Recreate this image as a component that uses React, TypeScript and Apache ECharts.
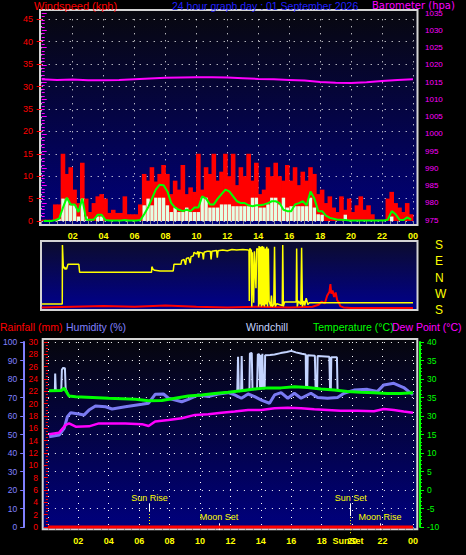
import React, { useEffect, useRef } from "react";
import * as echarts from "echarts";

const FONT = "Liberation Sans";

// ---------- Top panel: wind (15-minute bins) ----------
const gustKph = [
  0.3, 0.3, 0.3, 3.7,
  3.7, 15, 10.5, 12,
  7, 4, 13, 5,
  2, 4, 5.5, 6,
  5, 1.8, 2.5, 1.8,
  1.8, 5.5, 1.5, 1.5,
  1.5, 3.7, 10.5, 9,
  12, 8.8, 10.5, 12.5,
  10.5, 6, 9, 7,
  12.5, 6, 7.5, 6.5,
  15, 7, 12, 10.5,
  15, 9, 11, 15,
  10, 15, 8, 12,
  10, 15, 9, 13,
  6, 7, 12, 10,
  13, 10, 9, 12.5,
  9, 12, 8, 11,
  9, 12, 10.5, 6,
  7, 4, 5.5, 3,
  2, 5.5, 2.5, 5,
  2, 3.5, 5.5, 2.5,
  3.5, 1.5, 0.3, 0.3,
  0.3, 5, 6.5, 4,
  3, 2, 4, 1.5,
];
const speedKph = [
  0, 0, 0, 0,
  0.5, 5, 5, 3.5,
  3.5, 1, 5, 1,
  0, 0, 1, 1,
  0, 0, 0, 0,
  0, 0, 0, 0,
  0, 0, 3.5, 5,
  3.5, 5.2, 5.2, 5.2,
  3.5, 2, 3, 2,
  2, 3, 2, 2,
  2, 5.2, 5.2, 3,
  3, 3, 3.7, 3.7,
  3.7, 3.3, 3.3, 3.3,
  3.3, 3.3, 5.2, 5.2,
  3, 3, 3.7, 5.2,
  5.2, 3.7, 5.2, 3,
  3.3, 3.3, 3.3, 3.3,
  3.3, 5.2, 3, 1.5,
  1.4, 0, 0, 0,
  0, 0, 1.4, 0,
  0, 0, 0, 0,
  0, 0, 0, 0,
  0, 0, 1, 0,
  0, 0, 0, 0,
];
const avgKph = [
  0, 0, 0, 0.2,
  0.5, 3, 5.2, 3.7,
  3.7, 2, 5, 0.3,
  0.3, 0.3, 1.4, 1.4,
  0.2, 0.1, 0.1, 0.1,
  0.1, 0.2, 0.1, 0.1,
  0.1, 0.2, 1.5, 3,
  5, 7, 8.1, 8,
  6.6, 4, 3, 2.5,
  2.2, 2.5, 2.2, 3,
  3, 5.5, 5, 3.7,
  3.7, 5, 6, 7,
  6.6, 5.5, 4.4, 4,
  4, 3.5, 3.3, 3.5,
  3.5, 3.7, 4, 4.4,
  4.4, 4, 2.5, 2.2,
  2.2, 3.7, 4, 4.4,
  3.5, 6.6, 5, 2.2,
  2.2, 1.2, 0.7, 0.5,
  0.3, 0.3, 0.2, 0.1,
  0.1, 0.1, 0.1, 0.1,
  0.1, 0.1, 0.1, 0.1,
  0.1, 0.3, 2.2, 1.5,
  0.3, 0.2, 0.8, 0.3,
];
const baroHours = [0, 1, 2, 3, 4, 5, 6, 7, 8, 9, 10, 11, 12, 13, 14, 15, 16, 17, 18, 19, 20, 21, 22, 23, 24];
const baroHpa = [1015.8, 1015.6, 1015.7, 1015.5, 1015.5, 1015.6, 1015.8, 1016.0, 1016.2, 1016.3, 1016.4, 1016.4, 1016.3, 1016.1, 1015.9, 1015.8, 1015.6, 1015.4, 1015.0, 1014.8, 1014.7, 1014.9, 1015.3, 1015.6, 1015.8];

// ---------- Middle panel: wind direction ----------
const dirPoints: [number, number][] = [
  [0, 213], [1.33, 213], [1.34, 540], [1.4, 411], [1.45, 420], [1.5, 405], [1.55, 415], [1.6, 405], [1.7, 433],
  [2.4, 433], [2.45, 389], [7.1, 389], [7.12, 420], [7.2, 405], [7.3, 400], [7.65, 396], [8.5, 396], [8.55, 433],
  [9.0, 433], [9.05, 455], [9.2, 460], [9.3, 430], [9.35, 465], [9.5, 470], [9.6, 440], [9.65, 475], [9.8, 480],
  [9.85, 500], [10.0, 490], [10.1, 505], [10.15, 470], [10.2, 500], [10.4, 495], [10.45, 460], [10.5, 500],
  [10.7, 505], [10.9, 505], [10.95, 460], [11.0, 505], [11.3, 510], [11.35, 470], [11.4, 508], [11.7, 512],
  [12.0, 508], [12.3, 515], [12.6, 512], [13.0, 515], [13.35, 512], [13.4, 510], [13.42, 230], [13.45, 520],
  [13.55, 510], [13.58, 200], [13.62, 500], [13.7, 220], [13.75, 505], [13.85, 300], [13.9, 520], [14.0, 515],
  [14.02, 200], [14.05, 535], [14.1, 210], [14.15, 530], [14.2, 200], [14.25, 535], [14.3, 205], [14.35, 530],
  [14.4, 200], [14.45, 520], [14.5, 210], [14.55, 530], [14.6, 200], [14.65, 520], [14.7, 230], [14.8, 200],
  [14.85, 260], [14.9, 200], [15.0, 210], [15.05, 530], [15.1, 200], [15.2, 215], [15.55, 205], [15.58, 540],
  [15.62, 200], [15.7, 225], [16.45, 225], [16.48, 520], [16.52, 200], [16.6, 230], [16.75, 210], [16.8, 525],
  [16.85, 200], [16.95, 230], [17.0, 205], [17.1, 245], [17.2, 210], [17.3, 220], [24, 220],
];
const dirLabels = ["S", "W", "N", "E", "S"];
const midRedPoints: [number, number][] = [
  [0, 0.4], [2, 0.5], [4, 0.6], [6, 0.5], [8, 0.7], [10, 0.5], [12, 0.4], [14, 0.5], [16, 0.4], [17.5, 0.5],
  [17.9, 0.8], [18.1, 1.3], [18.3, 1.0], [18.45, 2.2], [18.6, 2.8], [18.66, 4.0], [18.72, 2.5], [18.8, 3.0],
  [18.9, 2.0], [19.0, 2.7], [19.1, 1.5], [19.2, 1.2], [19.3, 0.6], [19.5, 0.4], [20, 0.3], [22, 0.3], [24, 0.3],
];

// ---------- Bottom panel ----------
const tempPoints: [number, number][] = [
  [0.08, 26.8], [0.9, 26.9], [1.07, 27.5], [1.39, 25.4], [1.83, 25.2], [4.0, 24.8], [5.75, 24.5], [6.62, 24.1],
  [7.49, 24.2], [8.36, 24.8], [9.23, 25.4], [10.1, 25.7], [10.97, 26.1], [11.85, 26.4], [12.72, 26.8], [13.59, 27.3],
  [14.46, 27.6], [15.33, 27.6], [16.2, 27.9], [17.08, 27.7], [17.95, 27.3], [18.82, 27.0], [19.69, 26.6],
  [20.56, 26.4], [21.43, 26.3], [22.31, 26.1], [23.18, 26.1], [24, 26.3],
];
const humidityPoints: [number, number][] = [
  [0.08, 48.8], [0.74, 49.7], [1.07, 53.3], [1.28, 59.6], [1.5, 61.8], [2.04, 61.1], [2.37, 60.5], [2.7, 63.2],
  [3.13, 65.4], [3.79, 65], [4.22, 63.8], [5.09, 65], [6.18, 66.3], [6.62, 66.9], [7.05, 71.7], [7.6, 71.9],
  [7.93, 69.6], [8.8, 67.7], [9.23, 69], [9.89, 71.4], [10.54, 70.5], [11.2, 71.9], [11.85, 72.6], [12.28, 71.4],
  [12.72, 69.6], [13.16, 71.9], [13.59, 70.5], [14.03, 68.6], [14.57, 66.9], [14.9, 71.4], [15.33, 72.6],
  [15.77, 69.6], [16.2, 72.3], [16.64, 69.6], [17.29, 72.3], [17.73, 70], [18.38, 69.6], [19.04, 70], [19.47, 72.3],
  [20.12, 74], [21.0, 74.4], [21.65, 73.2], [22.08, 76.8], [22.74, 77.7], [23.39, 75.4], [24, 71.4],
];
const dewPoints: [number, number][] = [
  [0.08, 15.05], [0.74, 15.5], [1.17, 17.6], [1.39, 18.0], [1.83, 17.1], [2.7, 17.2], [3.35, 18.0], [5.09, 18.0],
  [6.18, 17.8], [6.62, 17.3], [7.05, 18.5], [7.93, 18.9], [8.8, 19.4], [9.67, 20.3], [10.54, 20.5], [11.41, 20.9],
  [12.28, 21.2], [13.16, 21.6], [14.03, 21.6], [14.9, 22.1], [15.77, 22.2], [16.64, 22.1], [17.51, 21.8],
  [18.38, 21.6], [19.25, 21.4], [20.35, 21.4], [21.43, 21.3], [22.08, 21.9], [22.74, 21.6], [23.39, 21.2], [24, 20.9],
];
const windchillPoints: [number, number | string][] = [
  [0.08, 26.8], [0.46, 26.8], [0.48, 31.5], [0.52, 26.8], [0.88, 26.9], [0.92, 32.5], [1.0, 33.0], [1.12, 32.9],
  [1.17, 27.3], [1.3, 26.0], [1.31, "-"],
  [12.45, 26.7], [12.5, 36.0], [12.55, 26.7], [12.7, 26.8], [12.74, 36.2], [12.78, 26.8], [13.25, 27.1],
  [13.28, 36.9], [13.4, 37.0], [13.45, 27.2], [13.75, 27.3], [13.8, 36.7], [13.9, 36.6], [13.95, 27.4],
  [14.0, 36.5], [14.05, 27.4], [14.1, 36.8], [14.15, 27.5], [14.25, 27.5], [14.28, 36.4], [14.6, 36.5],
  [14.9, 36.6], [15.3, 37.0], [15.7, 37.3], [16.0, 37.6], [16.3, 37.2], [16.7, 36.8], [16.95, 36.6],
  [16.97, 27.7], [17.05, 27.7], [17.08, 36.4], [17.55, 36.3], [17.6, 27.4], [17.7, 27.4], [17.73, 36.2],
  [18.5, 36.0], [18.55, 27.1], [18.6, 27.1], [18.63, 35.9], [19.0, 35.9], [19.04, 26.9],
];
const rainHours = [0, 6, 12, 18, 24];
const rainMm = [0, 0, 0, 0, 0];
const eventNames = ["Sun Rise", "Moon Set", "Sun Set", "Moon Rise"];
const eventHours = [6.79, 11.33, 19.93, 21.85];

const hourLabel = (v: number) => (v === 0 ? "" : String(v % 24).padStart(2, "0"));
const tempLabel = (v: number) => (v === 25 ? "35" : v === 20 ? "30" : String(v));
const windLabel = (v: number) => (v === 25 ? "35" : String(v));

const dots = { type: [1, 6] as any, color: "#ffffff", width: 1 };
const grad = (a: string, b: string) =>
  new echarts.graphic.LinearGradient(0, 0, 0, 1, [
    { offset: 0, color: a },
    { offset: 1, color: b },
  ]);

function buildOption(): any {
  const binX = gustKph.map((_, i) => i / 4 + 0.125);
  const hidden = (gridIndex: number, extra: any = {}) => ({ gridIndex, show: false, type: "value", ...extra });
  const lbl = (color: string, extra: any = {}) => ({ color, fontSize: 8.5, fontFamily: FONT, ...extra });

  const eventLines: any[] = [];
  const whiteSeg: Record<string, [number, number]> = {
    "Sun Rise": [2.48, 3.84],
    "Sun Set": [1.78, 3.84],
    "Moon Set": [-0.5, 0.6],
    "Moon Rise": [-0.5, 0.6],
  };
  const dottedSeg: Record<string, [number, number] | null> = {
    "Sun Rise": [0, 2.48],
    "Sun Set": [-1.0, 1.78],
    "Moon Set": null,
    "Moon Rise": null,
  };
  eventNames.forEach((name, i) => {
    const h = eventHours[i];
    const w = whiteSeg[name];
    eventLines.push([
      { coord: [h, w[0]] },
      {
        coord: [h, w[1]],
        lineStyle: { color: "#ffffff", type: "solid", width: 1 },
        label: { show: true, formatter: name, distance: name.startsWith("Sun") ? 1 : 2 },
      },
    ]);
    const d = dottedSeg[name];
    if (d) {
      eventLines.push([
        { coord: [h, d[0]] },
        { coord: [h, d[1]], lineStyle: { color: "#ffff00", type: [1, 2], width: 1 }, label: { show: false } },
      ]);
    }
  });

  const xLabelStyle = { color: "#ffff00", fontSize: 9, fontWeight: "bold", fontFamily: FONT, formatter: hourLabel };
  const tickGray = { lineStyle: { color: "#8a8a8a", width: 1 } };

  return {
    animation: false,
    backgroundColor: "#000000",
    textStyle: { fontFamily: FONT },
    grid: [
      { left: 40, top: 10, width: 377.5, height: 215, show: true, backgroundColor: grad("#08080e", "#00007c"), borderColor: "#d4d4d4", borderWidth: 2, z: 0 },
      { left: 41.7, top: 19.3, width: 371.3, height: 201.7 },
      { left: 41.7, top: 13, width: 371.3, height: 207 },
      { left: 41, top: 241, width: 376.5, height: 69, show: true, backgroundColor: grad("#0c0c2c", "#00008e"), borderColor: "#d4d4d4", borderWidth: 2, z: 0 },
      { left: 41.7, top: 245, width: 371.3, height: 65 },
      { left: 42.7, top: 339, width: 374.6, height: 190.3, show: true, backgroundColor: grad("#06060c", "#00007e"), borderColor: "#d4d4d4", borderWidth: 2, z: 0 },
      { left: 45.4, top: 342, width: 367.6, height: 185 },
      // events overlay: same horizontal mapping as the bottom data grid, extends below the axis
      { left: 45.4, top: 342, width: 367.6, height: 194.87 },
    ],
    xAxis: [
      hidden(0, { min: 0, max: 1 }),
      {
        gridIndex: 1, type: "value", min: 0, max: 24, interval: 2, offset: 4, z: 2,
        axisLine: { show: false },
        axisTick: { show: true, length: 3, ...tickGray },
        minorTick: { show: true, splitNumber: 4, length: 3, ...tickGray },
        axisLabel: { ...xLabelStyle, margin: 6 },
        splitLine: { show: true, lineStyle: dots },
      },
      hidden(1, { min: 0, max: 24 }),
      hidden(2, { min: 0, max: 24 }),
      hidden(3, { min: 0, max: 1 }),
      hidden(4, { min: 0, max: 24 }),
      hidden(5, { min: 0, max: 1 }),
      {
        gridIndex: 6, type: "value", min: 0, max: 24, interval: 2, offset: 2.3, z: 2,
        axisLine: { show: false },
        axisTick: { show: true, length: 3, ...tickGray },
        minorTick: { show: true, splitNumber: 4, length: 3, ...tickGray },
        axisLabel: { ...xLabelStyle, margin: 7 },
        splitLine: { show: true, lineStyle: dots },
      },
      hidden(7, { min: 0, max: 24 }),
    ],
    yAxis: [
      hidden(0, { min: 0, max: 1 }),
      {
        gridIndex: 1, type: "value", min: 0, max: 45, interval: 5, position: "left", offset: 1.7, z: 2,
        axisLine: { show: false },
        axisTick: { show: true, length: 5, lineStyle: { color: "#ff0000" } },
        axisLabel: lbl("#ff0000", { margin: 7, fontSize: 9, formatter: windLabel }),
        splitLine: { show: true, lineStyle: dots },
      },
      {
        gridIndex: 2, type: "value", min: 975, max: 1035, interval: 5, position: "right", offset: 5, z: 2,
        axisLine: { show: false },
        axisTick: { show: true, length: 5, lineStyle: { color: "#ff00ff" } },
        minorTick: { show: true, splitNumber: 5, length: 3, lineStyle: { color: "#ff00ff" } },
        axisLabel: lbl("#ff00ff", { margin: 7, fontSize: 8, formatter: (v: number) => String(v) }),
        splitLine: { show: false },
      },
      hidden(3, { min: 0, max: 1 }),
      {
        gridIndex: 4, type: "value", min: 180, max: 540, interval: 90, position: "right", offset: 5, z: 2,
        axisLine: { show: false },
        axisTick: { show: false },
        axisLabel: { color: "#ffff00", fontSize: 12, fontFamily: FONT, margin: 17, formatter: (v: number) => dirLabels[Math.round((v - 180) / 90)] },
        splitLine: { show: false },
      },
      hidden(4, { min: 0, max: 10 }),
      hidden(5, { min: 0, max: 1 }),
      {
        gridIndex: 6, type: "value", min: 0, max: 30, interval: 2, position: "left", offset: 2.9, z: 2,
        axisLine: { show: false },
        axisTick: { show: true, length: 4, lineStyle: { color: "#ff0000" } },
        minorTick: { show: true, splitNumber: 4, length: 2, lineStyle: { color: "#ff0000" } },
        axisLabel: lbl("#ff0000", { margin: 7 }),
        splitLine: { show: false },
      },
      {
        gridIndex: 6, type: "value", min: 0, max: 100, interval: 10, position: "left", offset: 23.7, z: 2,
        axisLine: { show: true, lineStyle: { color: "#8080ff", width: 2 } },
        axisTick: { show: true, length: 4, lineStyle: { color: "#8080ff" } },
        axisLabel: lbl("#8080ff", { margin: 7 }),
        splitLine: { show: true, lineStyle: dots },
      },
      {
        gridIndex: 6, type: "value", min: -10, max: 40, interval: 5, position: "right", offset: 7, z: 2,
        axisLine: { show: true, lineStyle: { color: "#00ff00", width: 2 } },
        axisTick: { show: true, length: 4, lineStyle: { color: "#00ff00" } },
        minorTick: { show: true, splitNumber: 5, length: 2, lineStyle: { color: "#00ff00" } },
        axisLabel: lbl("#00ff00", { margin: 7, formatter: tempLabel }),
        splitLine: { show: false },
      },
      hidden(7, { min: -1.6, max: 30 }),
    ],
    series: [
      {
        name: "Gust", type: "bar", xAxisIndex: 1, yAxisIndex: 1, barWidth: 4.6, z: 3,
        itemStyle: { color: "#ff0000" },
        data: gustKph.map((v, i) => [binX[i], v]),
      },
      {
        name: "Speed", type: "bar", xAxisIndex: 2, yAxisIndex: 1, barWidth: 3.4, z: 4,
        itemStyle: { color: "#e4ffe4" },
        data: speedKph.map((v, i) => [binX[i], v]),
      },
      {
        name: "Average", type: "line", xAxisIndex: 1, yAxisIndex: 1, showSymbol: false, z: 5,
        lineStyle: { color: "#00ff00", width: 2 },
        data: avgKph.map((v, i) => [binX[i], v]),
      },
      {
        name: "Barometer", type: "line", xAxisIndex: 3, yAxisIndex: 2, showSymbol: false, z: 5,
        lineStyle: { color: "#ff00ff", width: 2 },
        data: baroHpa.map((v, i) => [baroHours[i], v]),
      },
      {
        name: "MidRed", type: "line", xAxisIndex: 5, yAxisIndex: 5, showSymbol: false, z: 5,
        lineStyle: { color: "#ff0000", width: 2 },
        data: midRedPoints,
      },
      {
        name: "Direction", type: "line", xAxisIndex: 5, yAxisIndex: 4, showSymbol: false, z: 6,
        lineStyle: { color: "#ffff00", width: 1.5 },
        data: dirPoints,
      },
      {
        name: "Windchill", type: "line", xAxisIndex: 7, yAxisIndex: 9, showSymbol: false, z: 5,
        lineStyle: { color: "#c4d4ff", width: 2 },
        data: windchillPoints,
      },
      {
        name: "Humidity", type: "line", xAxisIndex: 7, yAxisIndex: 8, showSymbol: false, z: 6,
        lineStyle: { color: "#7a7af2", width: 3 },
        data: humidityPoints,
      },
      {
        name: "Dew Point", type: "line", xAxisIndex: 7, yAxisIndex: 9, showSymbol: false, z: 6,
        lineStyle: { color: "#ff00ff", width: 2.5 },
        data: dewPoints,
      },
      {
        name: "Temperature", type: "line", xAxisIndex: 7, yAxisIndex: 9, showSymbol: false, z: 7,
        lineStyle: { color: "#00ff00", width: 3 },
        data: tempPoints,
      },
      {
        name: "Rainfall", type: "line", xAxisIndex: 7, yAxisIndex: 7, showSymbol: false, z: 7, clip: false,
        lineStyle: { color: "#ff0000", width: 3 },
        data: rainMm.map((v, i) => [rainHours[i], v]),
      },
      {
        name: "Events", type: "line", xAxisIndex: 8, yAxisIndex: 10, showSymbol: false, z: 8,
        data: [],
        markLine: {
          silent: true,
          symbol: ["none", "none"],
          animation: false,
          label: { position: "end", color: "#ffff00", fontSize: 9, fontFamily: FONT },
          data: eventLines,
        },
      },
    ],
    graphic: [
      { type: "text", x: 34, y: 6, z: 10, style: { text: "Windspeed (kph)", fill: "#ff0000", font: `11px ${FONT}`, textVerticalAlign: "middle" } },
      { type: "text", x: 172, y: 6, z: 10, style: { text: "24 hour graph day : 01 September 2026", fill: "#2020ff", font: `10.5px ${FONT}`, textVerticalAlign: "middle" } },
      { type: "text", x: 372, y: 5.3, z: 10, style: { text: "Barometer (hpa)", fill: "#ff00ff", font: `10px DejaVu Sans`, textVerticalAlign: "middle" } },
      { type: "text", x: 0, y: 327, z: 10, style: { text: "Rainfall (mm)", fill: "#ff0000", font: `10.5px ${FONT}`, textVerticalAlign: "middle" } },
      { type: "text", x: 66, y: 327, z: 10, style: { text: "Humidity (%)", fill: "#8080ff", font: `10.5px ${FONT}`, textVerticalAlign: "middle" } },
      { type: "text", x: 246, y: 327, z: 10, style: { text: "Windchill", fill: "#c4d4ff", font: `10.5px ${FONT}`, textVerticalAlign: "middle" } },
      { type: "text", x: 313, y: 327, z: 10, style: { text: "Temperature (°C)", fill: "#00ff00", font: `10.5px ${FONT}`, textVerticalAlign: "middle" } },
      { type: "text", x: 392, y: 327, z: 10, style: { text: "Dew Point (°C)", fill: "#ff00ff", font: `10.5px ${FONT}`, textVerticalAlign: "middle" } },
      { type: "text", x: 348, y: 541, z: 10, style: { text: "SunSet", fill: "#ffff00", font: `bold 9px ${FONT}`, textAlign: "center", textVerticalAlign: "middle" } },
    ],
  };
}

export default function App() {
  const ref = useRef<HTMLDivElement>(null);
  useEffect(() => {
    if (!ref.current) return;
    const chart = echarts.init(ref.current, null, { renderer: "svg" });
    chart.setOption(buildOption());
    return () => chart.dispose();
  }, []);
  return (
    <div
      ref={ref}
      style={{ position: "absolute", left: 0, top: 0, width: 466, height: 555, background: "#000" }}
    />
  );
}
